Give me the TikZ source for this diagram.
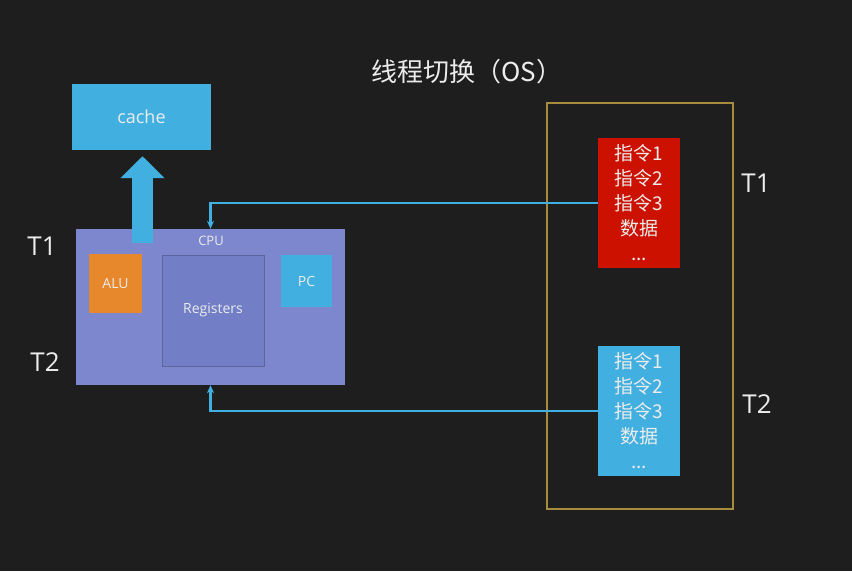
\documentclass[tikz,border=0pt]{standalone}
\usepackage{fontspec}
\setmainfont{Open Sans}
\newfontfamily\cjk{Noto Sans CJK SC}
\usepackage{xcolor}
\usetikzlibrary{arrows.meta,positioning}
\definecolor{boardgray}{RGB}{30,30,30}
\definecolor{skyblue}{RGB}{65,176,224}
\definecolor{cpuviolet}{RGB}{124,135,206}
\definecolor{regviolet}{RGB}{114,126,198}
\definecolor{aluorange}{RGB}{232,136,44}
\definecolor{memred}{RGB}{204,17,0}
\definecolor{framegold}{RGB}{168,140,62}
\definecolor{chalk}{RGB}{236,236,236}
\tikzset{
  blk/.style={inner sep=0pt, text=chalk, font=\fontsize{14}{16}\selectfont},
  cyanbox/.style={blk, fill=skyblue},
  cpubox/.style={blk, fill=cpuviolet},
  regbox/.style={blk, fill=regviolet, draw=regviolet!80!black, line width=0.6pt},
  alubox/.style={blk, fill=aluorange},
  membox/.style={inner sep=0pt, text=chalk, align=center,
    font=\cjk\fontsize{19}{25}\selectfont, minimum width=82pt, minimum height=130pt},
  tlabel/.style={text=chalk, font=\fontsize{26}{30}\selectfont},
  link/.style={-{Stealth[length=8pt,width=7pt]}, line width=2.2pt, skyblue},
  fatup/.style={-{Triangle[length=22pt,width=43pt]}, line width=21pt, skyblue},
}

\begin{document}
\begin{tikzpicture}[x=1pt,y=-1pt]
% board
\fill[boardgray] (0,0) rectangle (852,571);
\node[text=chalk, font=\cjk\fontsize{26}{30}\selectfont] (title) at (467,72) {线程切换（OS）};

% CPU side
\node[cyanbox, minimum width=139pt, minimum height=66pt, font=\fontsize{18}{21}\selectfont] (cache) at (141.5,117) {cache};
\node[cpubox, minimum width=269pt, minimum height=156pt] (cpu) at (210.5,307) {};
\node[blk, font=\fontsize{13}{15}\selectfont] (cpulbl) at (211,241) {CPU};
\coordinate (upfoot) at (142.5,243);
\draw[fatup, shorten >=6pt] (upfoot) -- (upfoot |- cache.south);
\node[alubox, minimum width=53pt, minimum height=59pt] (alu) at (115.5,283.5) {ALU};
\node[regbox, minimum width=102pt, minimum height=111pt] (regs) at (213,310.5) {Registers};
\node[cyanbox, minimum width=51pt, minimum height=52pt] (pc) at (306.5,281) {PC};
\node[tlabel] (t1left) at (42,246) {T1};
\node[tlabel] (t2left) at (45,362) {T2};

% memory side
\node[draw=framegold, line width=1.2pt, minimum width=186pt, minimum height=406pt] (os) at (640,306) {};
\node[membox, fill=memred] (t1blk) at (639,203) {指令1\\指令2\\指令3\\数据\\...};
\node[membox, fill=skyblue] (t2blk) at (639,411) {指令1\\指令2\\指令3\\数据\\...};
\node[tlabel] (t1right) at (756,183) {T1};
\node[tlabel] (t2right) at (757,404) {T2};

% switch lines
\draw[link] (t1blk.west) -| (cpu.north);
\draw[link] (t2blk.west) -| (cpu.south);
\end{tikzpicture}
\end{document}
